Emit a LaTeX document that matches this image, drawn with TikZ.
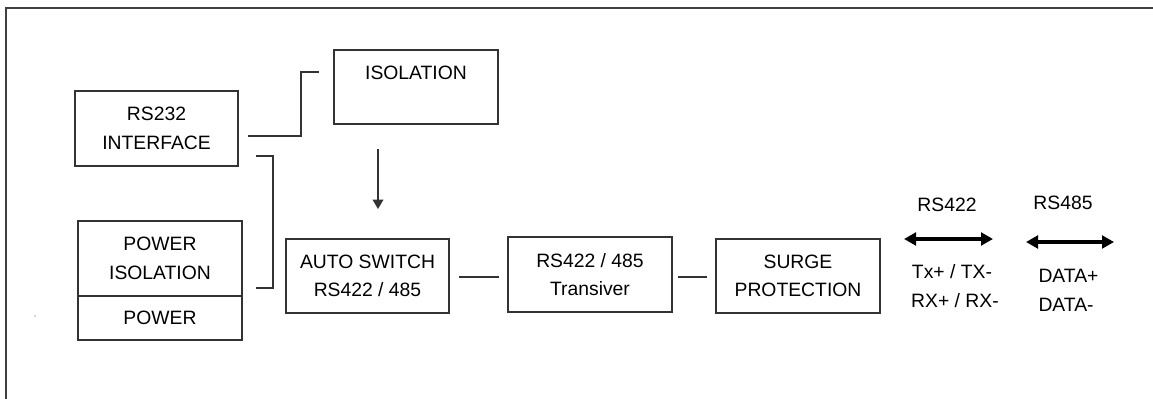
\documentclass[tikz,border=0pt]{standalone}
\usepackage{fontspec}
\setmainfont{Liberation Sans}
\usetikzlibrary{arrows.meta}

\tikzset{every picture/.style={line width=0.75pt}}
\tikzset{
	blockbox/.style={draw=black!80, line width=1pt, align=center, inner sep=0pt, font=\fontsize{14.5}{21.5}\selectfont},
	wirelink/.style={draw=black!80, line width=1pt},
	txtlabel/.style={inner sep=0pt, font=\fontsize{14.5}{21.5}\selectfont},
	bigtip/.tip={Triangle[length=9pt,width=9.5pt]}
}

\begin{document}
\begin{tikzpicture}[x=0.75pt,y=0.75pt,yscale=-1,xscale=1]
	\useasboundingbox (0,0) rectangle (1153,399);

	%Frame
	\draw [draw=black!75, line width=1.6pt] (6,399) -- (6,8) -- (1153,8) ;

	%Blocks
	\node [blockbox, minimum width=163*0.75pt, minimum height=75*0.75pt] (rsInterface) at (156.5,128.5) {RS232\\INTERFACE};
	\node [blockbox, minimum width=164*0.75pt, minimum height=74*0.75pt] (sigIsolation) at (416,87) {ISOLATION\\~};
	\node [blockbox, minimum width=164*0.75pt, minimum height=75*0.75pt] (pwrIsolation) at (160,258.5) {POWER\\ISOLATION};
	\node [blockbox, minimum width=164*0.75pt, minimum height=44*0.75pt] (pwrSupply) at (160,318) {POWER};
	\node [blockbox, minimum width=163*0.75pt, minimum height=74*0.75pt] (autoSwitch) at (367.5,276) {AUTO SWITCH\\RS422 / 485};
	\node [blockbox, minimum width=164*0.75pt, minimum height=75*0.75pt] (transceiver) at (590,274.5) {RS422 / 485\\Transiver};
	\node [blockbox, minimum width=164*0.75pt, minimum height=74*0.75pt] (surgeProt) at (798,276) {SURGE\\PROTECTION};

	%Connector ends
	\coordinate (c1a) at (248,136);
	\coordinate (c1b) at (319,72);
	\coordinate (c2a) at (256,156);
	\coordinate (c2b) at (256,288);
	\coordinate (arA) at (378,149);
	\coordinate (arB) at (378,209);
	\coordinate (l1a) at (459,277);
	\coordinate (l1b) at (499,277);
	\coordinate (l2a) at (678,277);
	\coordinate (l2b) at (707,277);
	\coordinate (b1a) at (904,239);
	\coordinate (b1b) at (993,239);
	\coordinate (b2a) at (1026,242);
	\coordinate (b2b) at (1114,242);

	%Lines
	\draw [wirelink, -{Triangle[length=7pt,width=8pt]}] (arA) -- (arB) ;
	\draw [wirelink] (c1a) -- (301,136) -- (301,72) -- (c1b) ;
	\draw [wirelink] (c2a) -- (273,156) -- (273,288) -- (c2b) ;
	\draw [wirelink] (l1a) -- (l1b) ;
	\draw [wirelink] (l2a) -- (l2b) ;
	\draw [draw=black, line width=2.4pt, bigtip-bigtip] (b1a) -- (b1b) ;
	\draw [draw=black, line width=2.4pt, bigtip-bigtip] (b2a) -- (b2b) ;

	%Dot
	\fill [black!70] (35,316) circle (0.6) ;

	% Text Node
	\node [txtlabel] (lbl422) at (947,205) {RS422};
	% Text Node
	\node [txtlabel] (lblTx) at (952,272) {Tx+ / TX-};
	% Text Node
	\node [txtlabel] (lblRx) at (955,301) {RX+ / RX-};
	% Text Node
	\node [txtlabel] (lbl485) at (1063,203) {RS485};
	% Text Node
	\node [txtlabel, anchor=west] (lblDp) at (1038,276) {DATA+};
	% Text Node
	\node [txtlabel, anchor=west] (lblDm) at (1038,305) {DATA-};

\end{tikzpicture}
\end{document}
